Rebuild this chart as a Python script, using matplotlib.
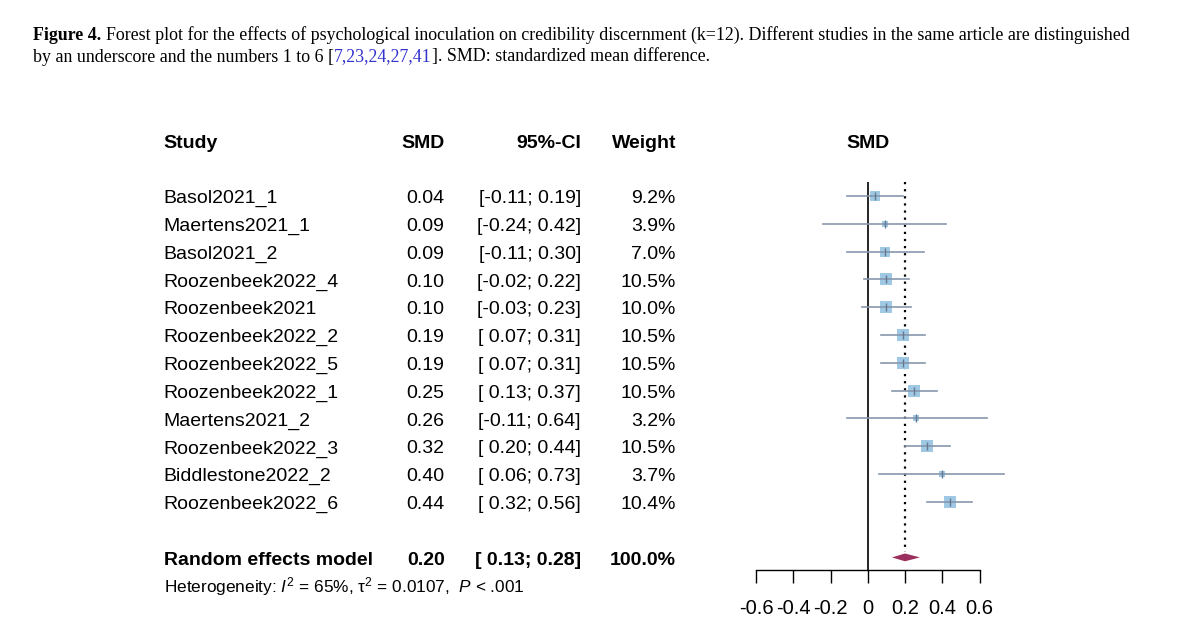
import numpy as np
import matplotlib
matplotlib.use('Agg')
import matplotlib.pyplot as plt
from matplotlib import transforms

plt.rcParams['font.family'] = 'Liberation Sans'
plt.rcParams['axes.unicode_minus'] = False
plt.rcParams['mathtext.fontset'] = 'custom'
plt.rcParams['mathtext.rm'] = 'Liberation Sans'
plt.rcParams['mathtext.it'] = 'Liberation Sans:italic'
plt.rcParams['mathtext.bf'] = 'Liberation Sans:bold'

# Data
studies = ['Basol2021_1', 'Maertens2021_1', 'Basol2021_2', 'Roozenbeek2022_4',
           'Roozenbeek2021', 'Roozenbeek2022_2', 'Roozenbeek2022_5', 'Roozenbeek2022_1',
           'Maertens2021_2', 'Roozenbeek2022_3', 'Biddlestone2022_2', 'Roozenbeek2022_6']
smd = [0.04, 0.09, 0.09, 0.10, 0.10, 0.19, 0.19, 0.25, 0.26, 0.32, 0.40, 0.44]
ci_lo = [-0.11, -0.24, -0.11, -0.02, -0.03, 0.07, 0.07, 0.13, -0.11, 0.20, 0.06, 0.32]
ci_hi = [0.19, 0.42, 0.30, 0.22, 0.23, 0.31, 0.31, 0.37, 0.64, 0.44, 0.73, 0.56]
weight = [9.2, 3.9, 7.0, 10.5, 10.0, 10.5, 10.5, 10.5, 3.2, 10.5, 3.7, 10.4]
re_smd, re_lo, re_hi, re_w = 0.20, 0.13, 0.28, 100.0
het_text = r'Heterogeneity: $I^2$ = 65%, $\mathrm{\tau}^2$ = 0.0107,  $P$ < .001'
xticks = [-0.6, -0.4, -0.2, 0, 0.2, 0.4, 0.6]
xtick_labels = ['-0.6', '-0.4', '-0.2', '0', '0.2', '0.4', '0.6']

W, H = 1200, 644
fig = plt.figure(figsize=(12, 6.44), dpi=100)

# row layout (pixel position of first row and spacing)
ROW0, DY = 196, 27.8
def row_of(ypix):
    return (ypix - ROW0) / DY

ax = fig.add_axes([756 / W, 1 - 570 / H, (979.5 - 756) / W, (570 - 126) / H])
ax.set_xlim(-0.6, 0.6)
ax.set_ylim(row_of(570), row_of(126))
for s in ['left', 'top', 'right']:
    ax.spines[s].set_visible(False)
ax.spines['bottom'].set_bounds(-0.6, 0.6)
ax.spines['bottom'].set_linewidth(1.0)
ax.set_yticks([])
ax.set_xticks(xticks)
ax.set_xticklabels(xtick_labels)
ax.tick_params(axis='x', direction='out', length=9, width=1.0, pad=12, labelsize=14.5)
ax.patch.set_visible(False)

rows = np.arange(len(studies))
n = len(studies)
re_row = n + 1

line_col = '#8797AC'
box_col = '#9EC8E4'
dia_col = '#9B2F5E'

# reference lines
ax.vlines(0, -0.5, row_of(570), color='black', lw=1.2, clip_on=False)
ax.vlines(re_smd, -0.5, re_row - 0.2, color='black', lw=1.6,
          linestyles=(0, (1, 2.2)), clip_on=False)

for i in rows:
    ms = 2.55 * np.sqrt(weight[i])
    ax.plot(smd[i], i, marker='s', ms=ms, color=box_col, mew=0, clip_on=False, zorder=3)
    ax.plot([ci_lo[i], ci_hi[i]], [i, i], color=line_col, lw=1.2, clip_on=False, zorder=4)
    ax.plot(smd[i], i, marker='|', ms=6, mew=1.0, color='#66788F', clip_on=False, zorder=5)

# diamond
dh = 0.14
ax.fill([re_lo, re_smd, re_hi, re_smd], [re_row, re_row - dh, re_row, re_row + dh],
        color=dia_col, lw=0, clip_on=False, zorder=5)

# table columns (text baseline sits a little below the row centre)
BASE = 0.26
tr = transforms.blended_transform_factory(fig.transFigure, ax.transData)
x_study, x_smd, x_ci, x_w = 163.5 / W, 444.5 / W, 581 / W, 676 / W
fs = 14
kw = dict(transform=tr, va='baseline', fontsize=fs, clip_on=False)

ax.text(0.0, -2 + BASE, 'SMD', ha='center', va='baseline', fontsize=14, fontweight='bold')
ax.text(x_study, -2 + BASE, 'Study', ha='left', fontweight='bold', **kw)
ax.text(x_smd, -2 + BASE, 'SMD', ha='right', fontweight='bold', **kw)
ax.text(x_ci, -2 + BASE, '95%-CI', ha='right', fontweight='bold', **kw)
ax.text(x_w, -2 + BASE, 'Weight', ha='right', fontweight='bold', **kw)

for i in rows:
    y = i + BASE
    ax.text(x_study, y, studies[i], ha='left', **kw)
    ax.text(x_smd, y, f'{smd[i]:.2f}', ha='right', **kw)
    ax.text(x_ci, y, f'[{ci_lo[i]:5.2f}; {ci_hi[i]:4.2f}]', ha='right', **kw)
    ax.text(x_w, y, f'{weight[i]:.1f}%', ha='right', **kw)

y = re_row + BASE
ax.text(x_study, y, 'Random effects model', ha='left', fontweight='bold', **kw)
ax.text(x_smd, y, f'{re_smd:.2f}', ha='right', fontweight='bold', **kw)
ax.text(x_ci, y, f'[{re_lo:5.2f}; {re_hi:4.2f}]', ha='right', fontweight='bold', **kw)
ax.text(x_w, y, f'{re_w:.1f}%', ha='right', fontweight='bold', **kw)
ax.text(x_study, re_row + 1 + BASE, het_text, ha='left', **dict(kw, fontsize=12.4))

# caption with mixed styles, placed piece by piece
renderer = fig.canvas.get_renderer()
cap_fs = 12.9
serif = 'Liberation Serif'

def put(x, y, s, **k):
    t = fig.text(x / W, 1 - y / H, s, family=serif, fontsize=cap_fs, va='baseline', **k)
    bb = t.get_window_extent(renderer)
    return bb.x1

t1 = fig.text(0, 0, 'x x', family=serif, fontsize=cap_fs)
t2 = fig.text(0, 0, 'xx', family=serif, fontsize=cap_fs)
space = t1.get_window_extent(renderer).width - t2.get_window_extent(renderer).width
t1.remove(); t2.remove()

x = put(33, 39.5, 'Figure 4.', fontweight='bold')
put(x + space, 39.5, 'Forest plot for the effects of psychological inoculation on credibility '
    'discernment (k=12). Different studies in the same article are distinguished')
x = put(33, 61.5, 'by an underscore and the numbers 1 to 6 [')
x = put(x, 61.5, '7,23,24,27,41', color='#3333CC')
put(x, 61.5, ']. SMD: standardized mean difference.')

fig.savefig('out.png', dpi=100)
